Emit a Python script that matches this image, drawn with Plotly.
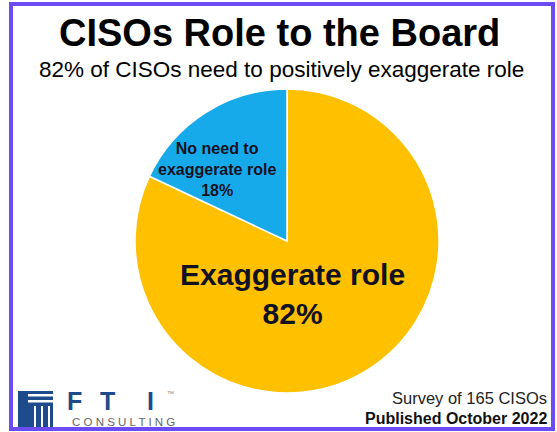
import plotly.graph_objects as go

W, H = 557, 432

# slice order: plotly puts the first slice right of 12 o'clock when counterclockwise
labels = ["Exaggerate role", "No need to exaggerate role"]
values = [82, 18]
colors = ["#FFC000", "#17AAEB"]

title = "CISOs Role to the Board"
subtitle = "82% of CISOs need to positively exaggerate role"
survey_note = "Survey of 165 CISOs"
published_note = "Published October 2022"

FONT = "Liberation Sans, Arial, sans-serif"


def px(x):
    return x / W


def py(y):
    return 1 - y / H


# pie centre and radius in pixels
cx, cy, r = 287, 241, 152

fig = go.Figure()
fig.add_trace(go.Pie(
    labels=labels,
    values=values,
    sort=False,
    direction="counterclockwise",
    rotation=0,
    marker=dict(colors=colors, line=dict(color="white", width=1.5)),
    textinfo="none",
    hoverinfo="label+percent",
    showlegend=False,
    domain=dict(x=[px(cx - r), px(cx + r)], y=[py(cy + r), py(cy - r)]),
))

annos = []
annos.append(dict(x=px(279), y=py(33), text="<b>" + title + "</b>",
                  font=dict(size=38, color="black", family=FONT)))
annos.append(dict(x=px(281), y=py(70), text=subtitle,
                  font=dict(size=22.5, color="black", family=FONT)))

# slice labels
small = "No need to<br>exaggerate role<br>%d%%" % values[1]
annos.append(dict(x=px(217), y=py(169), text="<b>" + small + "</b>",
                  font=dict(size=16, color="#111122", family=FONT)))
big = "%s<br>%d%%" % (labels[0], values[0])
annos.append(dict(x=px(292), y=py(294), text="<b>" + big + "</b>",
                  font=dict(size=30, color="#111122", family=FONT)))

# footer notes
annos.append(dict(x=px(549), y=py(398), text=survey_note, xanchor="right",
                  font=dict(size=16.5, color="#222", family=FONT)))
annos.append(dict(x=px(549), y=py(418), text="<b>" + published_note + "</b>", xanchor="right",
                  font=dict(size=16, color="#111", family=FONT)))

# FTI logo text
navy = "#1D4B8C"
for ch, x in [("F", 74), ("T", 108), ("I", 150)]:
    annos.append(dict(x=px(x), y=py(401), text="<b>" + ch + "</b>", borderpad=0,
                      font=dict(size=25, color=navy, family=FONT)))
annos.append(dict(x=px(170), y=py(393), text="™", borderpad=0,
                  font=dict(size=7, color="#888", family=FONT)))
annos.append(dict(x=px(123), y=py(422), text="C O N S U L T I N G", borderpad=0,
                  font=dict(size=11.5, color="#666", family=FONT)))

for a in annos:
    a.setdefault("xanchor", "center")
    a["yanchor"] = "middle"
    a["xref"] = "paper"
    a["yref"] = "paper"
    a["showarrow"] = False

shapes = []


def rect(x0, y0, x1, y1, fill):
    shapes.append(dict(type="rect", xref="paper", yref="paper",
                       x0=px(x0), x1=px(x1), y0=py(y1), y1=py(y0),
                       fillcolor=fill, line=dict(width=0)))


# logo icon
rect(18, 391, 53, 427, navy)
rect(28, 394, 53, 396.5, "white")
rect(28, 400, 53, 402.5, "white")
for x in [34, 41, 48]:
    rect(x, 406, x + 2, 427, "white")

# frame
shapes.append(dict(type="rect", xref="paper", yref="paper",
                   x0=px(11), x1=px(553), y0=py(429), y1=py(4),
                   line=dict(color="#6A4BF4", width=4), fillcolor="rgba(0,0,0,0)"))

fig.update_layout(
    width=W, height=H,
    margin=dict(l=0, r=0, t=0, b=0),
    paper_bgcolor="white",
    plot_bgcolor="white",
    annotations=annos,
    shapes=shapes,
)

fig.write_html("out.html", config={"displayModeBar": False})

# drop the default body margin so the figure sits at the window's corner
with open("out.html") as f:
    page = f.read()
page = page.replace("<body>", '<body style="margin:0;overflow:hidden">', 1)
with open("out.html", "w") as f:
    f.write(page)
